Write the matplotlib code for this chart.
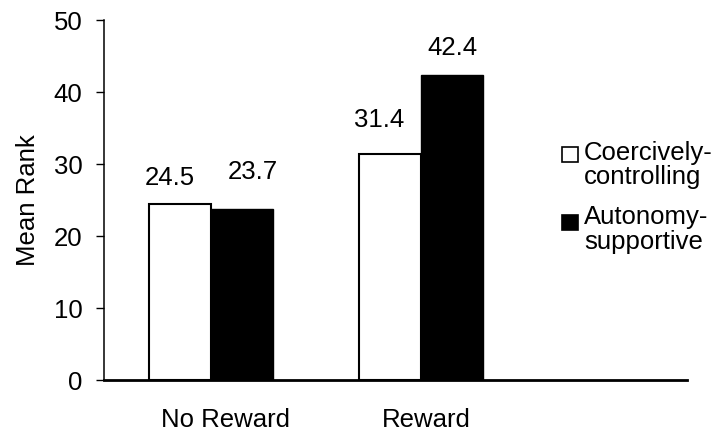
import matplotlib
matplotlib.use("Agg")
import matplotlib.pyplot as plt
import numpy as np
from matplotlib.patches import Rectangle

plt.rcParams['font.family'] = ['Liberation Sans', 'DejaVu Sans']

categories = ["No Reward", "Reward"]
series_lines = [["Coercively-", "controlling"], ["Autonomy-", "supportive"]]
coercive = [24.5, 31.4]
autonomy = [23.7, 42.4]
y_ticks = [0, 10, 20, 30, 40, 50]

FS = 18.5

fig = plt.figure(figsize=(7.16, 4.42), dpi=100)
ax = fig.add_axes([104 / 716, 62 / 442, 583 / 716, 360 / 442])

x = np.arange(len(categories))
w = 0.294
b1 = ax.bar(x - w / 2, coercive, w, color="white", edgecolor="black", linewidth=1.5)
b2 = ax.bar(x + w / 2, autonomy, w, color="black", edgecolor="black", linewidth=1.0)

# value labels above each bar, nudged (in points) as laid out on the page
nudges = {
    0: [(-7, 13.5), (-8, 19.5)],   # coercive: No Reward, Reward
    1: [(8, 22.0), (0, 14.5)],     # autonomy: No Reward, Reward
}
for k, (bars, vals) in enumerate(((b1, coercive), (b2, autonomy))):
    for j, (rect, v) in enumerate(zip(bars, vals)):
        ax.annotate(f"{v:.1f}", (rect.get_x() + rect.get_width() / 2, v),
                    xytext=nudges[k][j], textcoords="offset points",
                    ha="center", va="baseline", fontsize=FS)

ax.set_xlim(-0.507, 2.263)
ax.set_ylim(0, 50)
ax.set_yticks(y_ticks)
label_shift = np.array([0.07, 0.025])
ax.set_xticks(x + label_shift)
ax.set_xticklabels(categories)
ax.tick_params(axis="x", length=0, pad=20, labelsize=FS)
ax.tick_params(axis="y", length=6, width=1, pad=9.5, labelsize=FS)
ax.set_ylabel("Mean Rank", fontsize=FS, labelpad=10)

for s in ("top", "right"):
    ax.spines[s].set_visible(False)
ax.spines["left"].set_linewidth(1.1)
ax.spines["bottom"].set_linewidth(2.0)

# legend: square key aligned with the first line of each two-line label
key_x, key_w, key_h = 0.7856, 0.0274, 0.0417
text_x = 0.823
key_y = [0.6056, 0.4167]
baselines = [[0.6111, 0.5444], [0.4333, 0.3639]]
key_faces = ["white", "black"]
for face, ky, lines, bls in zip(key_faces, key_y, series_lines, baselines):
    ax.add_patch(Rectangle((key_x, ky), key_w, key_h, transform=ax.transAxes,
                           facecolor=face, edgecolor="black", linewidth=1.2,
                           clip_on=False))
    for line, bl in zip(lines, bls):
        ax.text(text_x, bl, line, transform=ax.transAxes, ha="left",
                va="baseline", fontsize=FS)

fig.savefig("out.png", dpi=100)
